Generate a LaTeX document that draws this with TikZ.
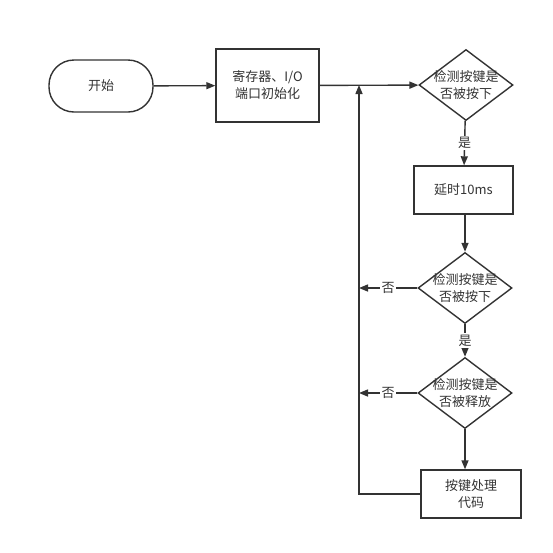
\documentclass[tikz,border=0pt]{standalone}
\usepackage{fontspec}
\setmainfont{Noto Sans CJK SC}
\usetikzlibrary{shapes.geometric,arrows.meta}

\definecolor{linegray}{HTML}{333333}

\tikzset{
  base/.style = {draw = linegray, line width = 1.4pt, text = linegray,
    font = \fontsize{13}{17}\selectfont, align = center, inner sep = 0pt},
  terminal/.style = {base, rectangle, rounded corners = 25pt,
    minimum width = 104pt, minimum height = 52pt},
  process/.style = {base, rectangle},
  decision/.style = {base, diamond, minimum width = 94pt, minimum height = 71pt},
  dtext/.style = {text = linegray, font = \fontsize{13}{17}\selectfont, align = center},
  flow/.style = {draw = linegray, line width = 1.4pt, ->},
  tag/.style = {fill = white, text = linegray, inner sep = 1.5pt,
    font = \fontsize{13}{15}\selectfont}
}

\begin{document}
\begin{tikzpicture}
          [x = 1pt, y = -1pt, >= {Triangle[length = 9pt, width = 7pt]}]
          \useasboundingbox (0,0) rectangle (553,552);
          % main column
          \node[terminal] (start) at (101,86) {开始};
          \node[process, minimum width = 103pt, minimum height = 73pt]
               (init) at (267.5,85.5) {寄存器、I/O\\端口初始化};
          \node[decision, label = {[dtext]center:检测按键是\\否被按下}]
               (chk1) at (466,85) {};
          \node[process, minimum width = 99pt, minimum height = 48pt]
               (delay) at (463.5,190) {延时10ms};
          \node[decision, label = {[dtext]center:检测按键是\\否被按下}]
               (chk2) at (465,288) {};
          \node[decision, label = {[dtext]center:检测按键是\\否被释放}]
               (chk3) at (465,393) {};
          \node[process, minimum width = 100pt, minimum height = 48pt]
               (key) at (471,494) {按键处理\\代码};
          % return line
          \coordinate (join) at (359,85);
          \coordinate (back) at (359,494);

          \draw[flow] (start) -- (init);
          \draw[flow] (init) -- (chk1);
          \draw[flow] (chk1) -- node[tag] {是} (delay);
          \draw[flow] (delay.south -| chk2.north) -- (chk2);
          \draw[flow] (chk2) -- node[tag] {是} (chk3);
          \draw[flow] (chk3.south) -- (chk3.south |- key.north);
          \draw[flow] (chk2.west) -- node[tag] {否} (chk2.west -| join);
          \draw[flow] (chk3.west) -- node[tag] {否} (chk3.west -| join);
          \draw[flow] (key.west) -- (back) -- (join);
        \end{tikzpicture}
\end{document}
